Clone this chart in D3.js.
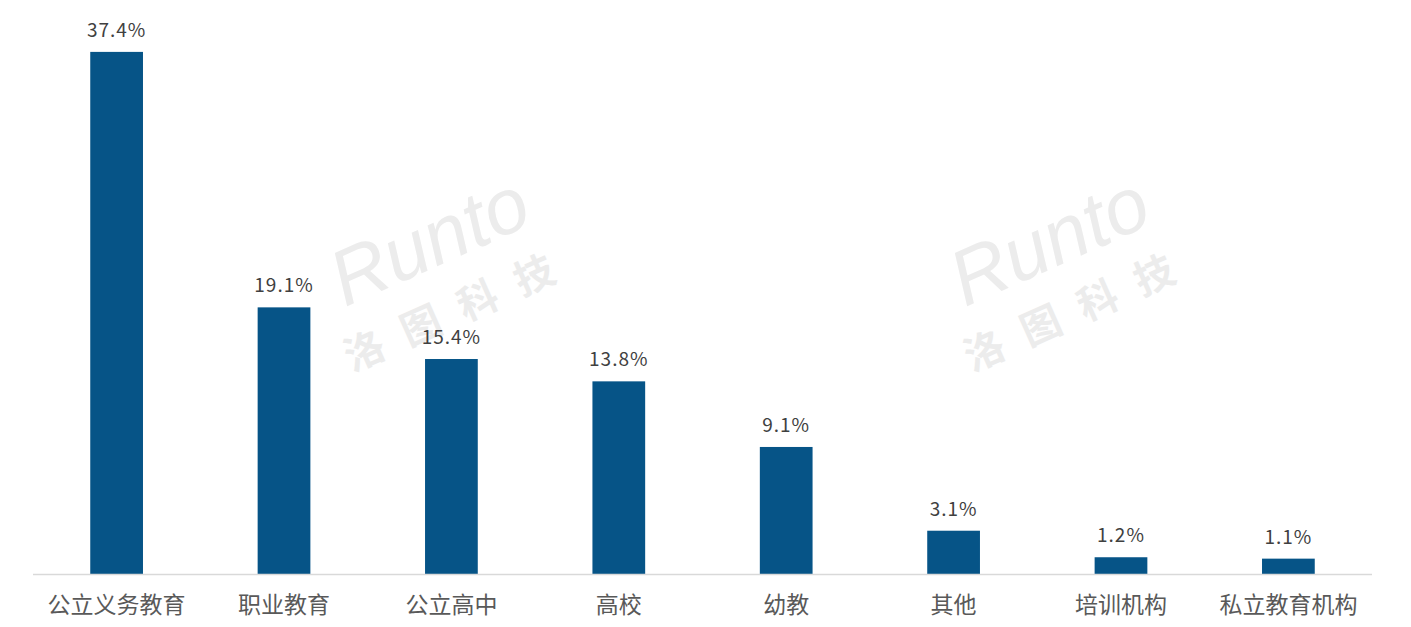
<!DOCTYPE html>
<html><head><meta charset="utf-8">
<script src="https://cdn.jsdelivr.net/npm/d3@7/dist/d3.min.js"></script>
<style>body{margin:0;background:#fff}svg{display:block}</style>
</head><body><svg id="c" width="1411" height="627"></svg>
<script>
const categories = ["公立义务教育","职业教育","公立高中","高校","幼教","其他","培训机构","私立教育机构"];
const values = [37.4, 19.1, 15.4, 13.8, 9.1, 3.1, 1.2, 1.1];
const labels = ["37.4%","19.1%","15.4%","13.8%","9.1%","3.1%","1.2%","1.1%"];

const svg = d3.select("#c");
const font = "'Noto Sans CJK SC','Noto Sans',sans-serif";
const x = d3.scaleBand().domain(categories).range([33, 1372]).paddingInner(0.685).paddingOuter(0.342);
const y = d3.scaleLinear().domain([0, 40]).range([574, 15.6]);

// watermark
const wm = [[440, 265], [1060, 265]];
wm.forEach(([cx, cy]) => {
  const g = svg.append("g").attr("transform", `translate(${cx},${cy}) rotate(-24)`);
  g.append("text").attr("x", 0).attr("y", 0).attr("text-anchor", "middle")
    .attr("font-family", "Arial, 'Liberation Sans', sans-serif").attr("font-style", "italic")
    .attr("font-size", 78).attr("fill", "#ececec").text("Runto");
  g.append("text").attr("x", 0).attr("y", 62).attr("text-anchor", "middle")
    .attr("font-family", font).attr("font-weight", "bold").attr("letter-spacing", 22)
    .attr("font-size", 40).attr("fill", "#ececec").text("洛图科技");
});

svg.append("g").selectAll("rect").data(values).join("rect")
  .attr("x", (d, i) => x(categories[i])).attr("width", x.bandwidth())
  .attr("y", d => y(d)).attr("height", d => y(0) - y(d))
  .attr("fill", "#065487");

svg.append("line").attr("x1", 33).attr("x2", 1372).attr("y1", y(0) + 0.5).attr("y2", y(0) + 0.5)
  .attr("stroke", "#d9d9d9").attr("stroke-width", 1.5);

svg.append("g").selectAll("text").data(values).join("text")
  .attr("x", (d, i) => x(categories[i]) + x.bandwidth() / 2)
  .attr("y", d => y(d) - 15)
  .attr("text-anchor", "middle").attr("font-family", font).attr("font-size", 19)
  .attr("fill", "#404040").attr("letter-spacing", 1)
  .text((d, i) => labels[i]);

const xa = d3.axisBottom(x).tickSize(0).tickPadding(23);
const ag = svg.append("g").attr("transform", `translate(0,${y(0)})`).call(xa);
ag.select(".domain").remove();
ag.selectAll("text").attr("font-family", font).attr("font-size", 23).attr("fill", "#595959");
</script></body></html>
